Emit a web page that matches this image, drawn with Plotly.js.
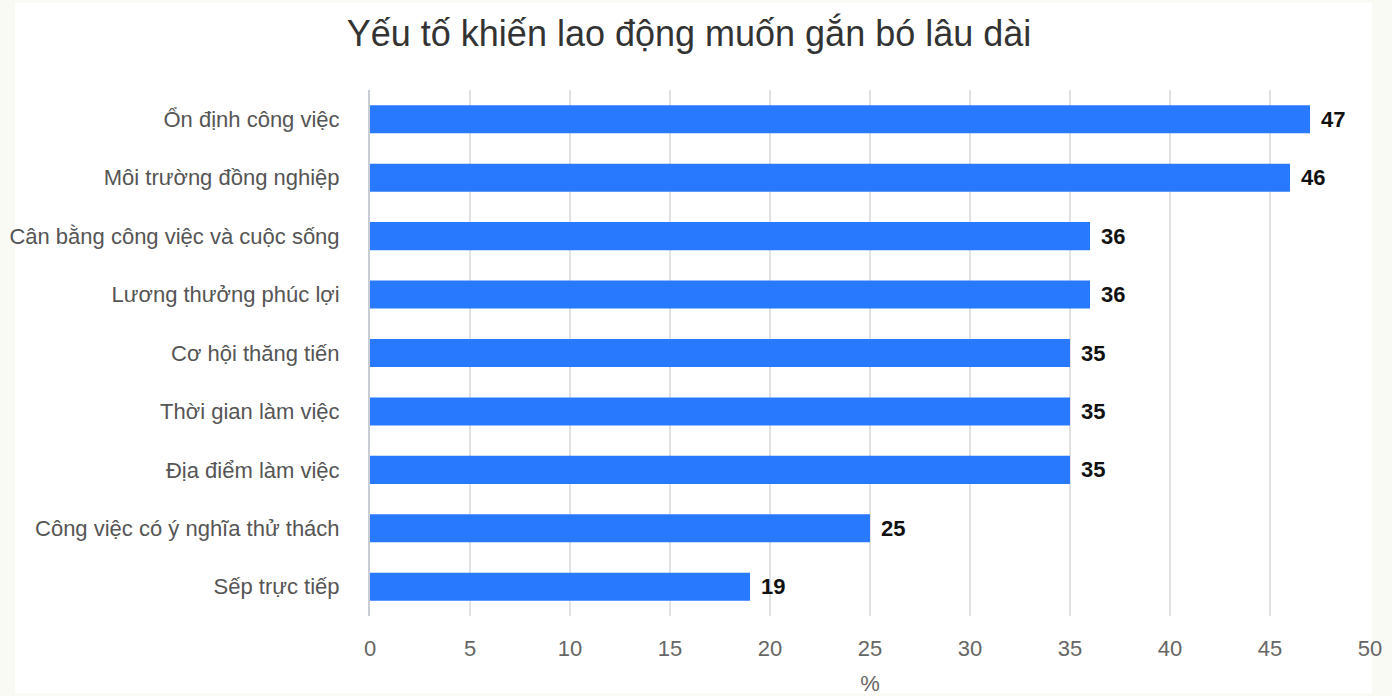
<!DOCTYPE html>
<html>
<head>
<meta charset="utf-8">
<script src="https://cdn.plot.ly/plotly-3.0.1.min.js"></script>
<style>
  body { margin: 0; background: #fafaf5; }
  #wrap { position: relative; width: 1392px; height: 696px; }
  #card { position: absolute; left: 15px; top: 3px; width: 1357px; height: 690px; background: #fff; }
  #chart { position: absolute; left: 0; top: 0; width: 1392px; height: 696px; }
</style>
</head>
<body>
<div id="wrap">
  <div id="card"></div>
  <div id="chart"></div>
</div>
<script>
// factors, top to bottom as shown
var factors = [
    'Ổn định công việc',
    'Môi trường đồng nghiệp',
    'Cân bằng công việc và cuộc sống',
    'Lương thưởng phúc lợi',
    'Cơ hội thăng tiến',
    'Thời gian làm việc',
    'Địa điểm làm việc',
    'Công việc có ý nghĩa thử thách',
    'Sếp trực tiếp'
]
var percents = [47, 46, 36, 36, 35, 35, 35, 25, 19]
var xTicks = [0, 5, 10, 15, 20, 25, 30, 35, 40, 45, 50]

var trace = {
    x: percents,
    y: factors,
    type: 'bar',
    orientation: 'h',
    marker: { color: '#2979ff' },
    hoverinfo: 'x+y'
}

// value labels next to bar ends
var labels = percents.map(function(v, i) {
    return {
        x: v,
        y: factors[i],
        text: '<b>' + v + '</b>',
        showarrow: false,
        xanchor: 'left',
        yanchor: 'middle',
        xshift: 9,
        font: { family: 'Liberation Sans, Arial, sans-serif', size: 22, color: '#111' }
    }
})

var layout = {
    width: 1392,
    height: 696,
    paper_bgcolor: 'rgba(0,0,0,0)',
    plot_bgcolor: 'rgba(0,0,0,0)',
    font: { family: 'Liberation Sans, Arial, sans-serif', size: 22, color: '#555' },
    title: {
        text: 'Yếu tố khiến lao động muốn gắn bó lâu dài',
        font: { size: 36, color: '#333' },
        x: 0.495,
        xanchor: 'center',
        y: 0.952,
        yanchor: 'middle'
    },
    margin: { l: 370, r: 22, t: 90, b: 80 },
    bargap: 0.52,
    showlegend: false,
    xaxis: {
        range: [0, 50],
        tickvals: xTicks,
        showgrid: true,
        gridcolor: '#e2e2e2',
        gridwidth: 2,
        zeroline: false,
        ticks: '',
        ticklabelstandoff: 17,
        tickfont: { size: 22, color: '#666' },
        title: { text: '%', font: { size: 22, color: '#666' }, standoff: 16 },
        fixedrange: true
    },
    yaxis: {
        autorange: 'reversed',
        showline: true,
        linecolor: '#c8ccd4',
        linewidth: 2,
        showgrid: false,
        ticks: '',
        ticklabelstandoff: 24,
        tickfont: { size: 22, color: '#555' },
        fixedrange: true
    },
    annotations: labels
}

Plotly.newPlot('chart', [trace], layout, { displayModeBar: false })
</script>
</body>
</html>
